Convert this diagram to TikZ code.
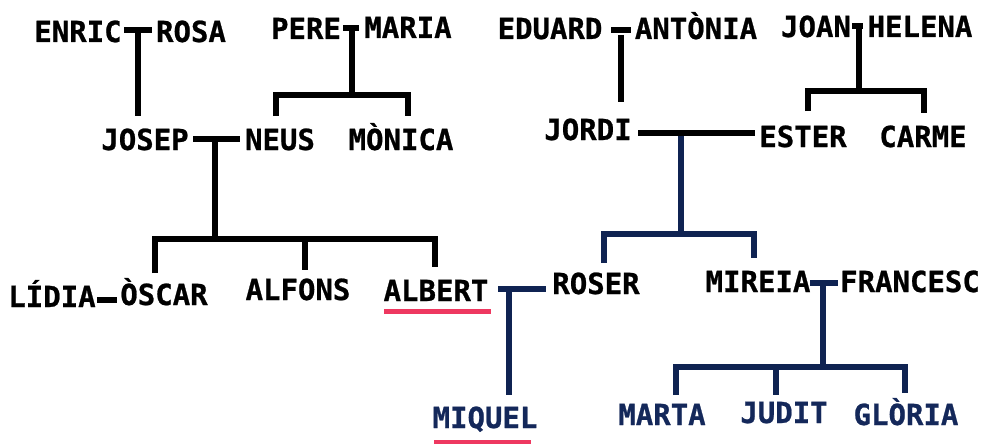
\documentclass[tikz,border=0pt]{standalone}
\usepackage{fontspec}
\setmonofont[BoldFeatures={FakeBold=0.8}]{DejaVu Sans Mono}
\definecolor{navy}{HTML}{0F2352}
\definecolor{navytext}{HTML}{14285A}
\definecolor{uline}{HTML}{EE3860}
\tikzset{
  person/.style={font=\ttfamily\bfseries\fontsize{29}{30}\selectfont, inner sep=0pt, anchor=base, text=black},
  kid/.style={person, text=navytext},
  blk/.style={draw=black, line width=6pt, line cap=butt, line join=miter},
  nvy/.style={draw=navy, line width=6pt, line cap=butt, line join=miter},
  redline/.style={draw=uline, line width=5pt, line cap=butt}
}
\begin{document}
\begin{tikzpicture}[x=1pt,y=-1pt]
\useasboundingbox (0,0) rectangle (983,444);
% people
\node[person] (enric) at (78,42) {ENRIC};
\node[person] (rosa) at (191,42) {ROSA};
\node[person] (pere) at (306,39) {PERE};
\node[person] (maria) at (408,38) {MARIA};
\node[person] (eduard) at (550,39) {EDUARD};
\node[person] (antonia) at (696,39) {ANTÒNIA};
\node[person] (joan) at (816,37) {JOAN};
\node[person] (helena) at (920,37) {HELENA};
\node[person] (josep) at (145,150) {JOSEP};
\node[person] (neus) at (280,150) {NEUS};
\node[person] (monica) at (401,150) {MÒNICA};
\node[person] (jordi) at (588,140) {JORDI};
\node[person] (ester) at (803,147) {ESTER};
\node[person] (carme) at (923,147) {CARME};
\node[person] (lidia) at (52,307) {LÍDIA};
\node[person] (oscar) at (164,305) {ÒSCAR};
\node[person] (alfons) at (298,300) {ALFONS};
\node[person] (albert) at (436,301) {ALBERT};
\node[person] (roser) at (596,294) {ROSER};
\node[person] (mireia) at (758,292) {MIREIA};
\node[person] (francesc) at (910,292) {FRANCESC};
\node[kid] (miquel) at (485,428) {MIQUEL};
\node[kid] (marta) at (662,425) {MARTA};
\node[kid] (judit) at (784,423) {JUDIT};
\node[kid] (gloria) at (906,425) {GLÒRIA};
% junction coordinates
\coordinate (c1) at (138,30.5);
\coordinate (c2) at (352,28.5);
\coordinate (c3) at (621,35);
\coordinate (c4) at (859,26.5);
\coordinate (c5) at (215,138.5);
\coordinate (c6) at (681,136);
\coordinate (c7) at (509,288.5);
\coordinate (c8) at (823,282.5);
% ENRIC - ROSA -> JOSEP
\draw[blk] (124,30.5) -- (152,30.5);
\draw[blk] (c1) -- (138,116);
% PERE - MARIA -> NEUS, MONICA
\draw[blk] (343,28.5) -- (359,28.5);
\draw[blk] (c2) -- (352,95);
\draw[blk] (276,116) -- (276,95) -- (408,95) -- (408,116);
% EDUARD - ANTONIA -> JORDI
\draw[blk] (611,30) -- (631,30);
\draw[blk] (c3) -- (621,102);
% JOAN - HELENA -> ESTER, CARME
\draw[blk] (852,26.5) -- (863,26.5);
\draw[blk] (c4) -- (859,91);
\draw[blk] (808,111) -- (808,91) -- (924,91) -- (924,113);
% JOSEP - NEUS -> OSCAR, ALFONS, ALBERT
\draw[blk] (193,138.5) -- (240,138.5);
\draw[blk] (c5) -- (215,239);
\draw[blk] (155,273) -- (155,239) -- (435,239) -- (435,267);
\draw[blk] (305,239) -- (305,270);
% LIDIA - OSCAR
\draw[blk] (97,299.5) -- (117,299.5);
% JORDI - ESTER -> ROSER, MIREIA
\draw[blk] (638,133) -- (755,133);
\draw[nvy] (c6) -- (681,234);
\draw[nvy] (604,263) -- (604,234) -- (754,234) -- (754,258);
% ALBERT - ROSER -> MIQUEL
\draw[nvy] (498,288.5) -- (546,288.5);
\draw[nvy] (c7) -- (509,395);
% MIREIA - FRANCESC -> MARTA, JUDIT, GLORIA
\draw[nvy] (810,282.5) -- (838,282.5);
\draw[nvy] (c8) -- (823,367);
\draw[nvy] (676,395) -- (676,367) -- (905,367) -- (905,393);
\draw[nvy] (776,367) -- (776,395);
% underlines
\draw[redline] (384,311) -- (491,311);
\draw[redline] (434,442) -- (531,442);
\end{tikzpicture}
\end{document}
